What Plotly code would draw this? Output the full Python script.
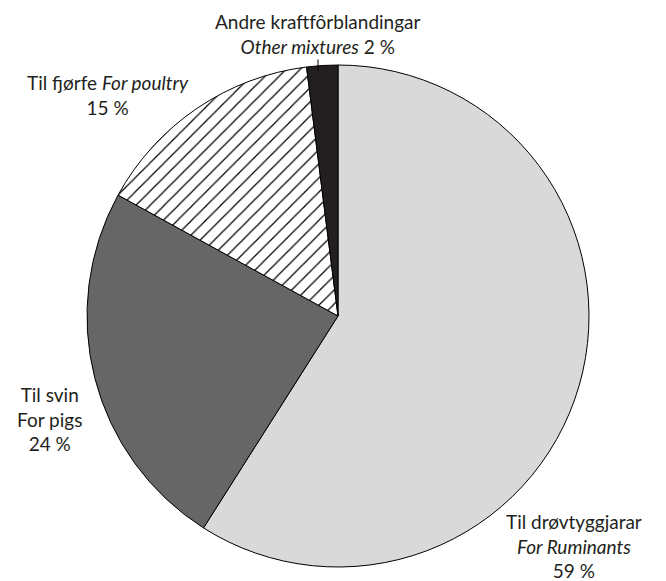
import plotly.graph_objects as go

W, H = 666, 581
OFF = 8  # page body margin offset

categories = ["Til drøvtyggjarar", "Til svin", "Til fjørfe", "Andre kraftfôrblandingar"]
categories_en = ["For Ruminants", "For pigs", "For poultry", "Other mixtures"]
values = [59, 24, 15, 2]
colors = ["#d9d9d9", "#666666", "#ffffff", "#231f20"]
patterns = ["", "", "/", ""]

cx, cy, r = 338 - OFF, 316 - OFF, 251

fig = go.Figure(go.Pie(
    labels=categories,
    values=values,
    sort=False,
    direction="clockwise",
    rotation=0,
    textinfo="none",
    hoverinfo="label+percent",
    marker=dict(
        colors=colors,
        line=dict(color="#000000", width=1),
        pattern=dict(shape=patterns, fgcolor="#000000", size=10, solidity=0.12),
    ),
    domain=dict(x=[(cx - r) / W, (cx + r) / W], y=[1 - (cy + r) / H, 1 - (cy - r) / H]),
    showlegend=False,
))

font = dict(family="Lato, 'Open Sans', sans-serif", size=19, color="#231f20")

def px(x, y):
    return (x - OFF) / W, 1 - (y - OFF) / H

labels_text = [
    f"{categories[0]}<br><i>{categories_en[0]}</i><br>{values[0]} %",
    f"{categories[1]}<br>{categories_en[1]}<br>{values[1]} %",
    f"{categories[2]} <i>{categories_en[2]}</i><br>{values[2]} %",
    f"{categories[3]}<br><i>{categories_en[3]}</i> {values[3]} %",
]
label_pos = [(574, 546), (50, 419), (108, 95), (318, 34)]

for i, (t, (lx, ly)) in enumerate(zip(labels_text, label_pos)):
    x, y = px(lx, ly)
    if i == 3:
        tx, ty = px(318, 71)
        fig.add_annotation(
            x=tx, y=ty, xref="paper", yref="paper", text=t, font=font,
            showarrow=True, arrowhead=0, arrowwidth=1, arrowcolor="#000000",
            ax=0, ay=-(71 - ly), standoff=0, align="center",
        )
    else:
        fig.add_annotation(
            x=x, y=y, xref="paper", yref="paper", text=t, font=font,
            showarrow=False, xanchor="center", yanchor="middle", align="center",
        )

fig.update_layout(
    width=W, height=H,
    margin=dict(l=0, r=0, t=0, b=0),
    paper_bgcolor="#ffffff",
    plot_bgcolor="#ffffff",
)

fig.write_html("out.html")
